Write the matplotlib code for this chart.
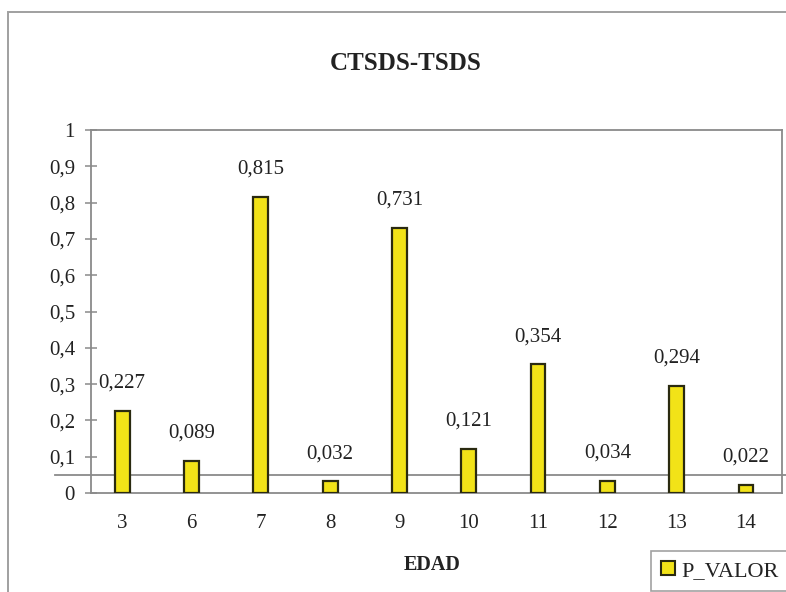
import matplotlib
matplotlib.use("Agg")
import matplotlib.pyplot as plt
from matplotlib.patches import Rectangle, Patch
from matplotlib.ticker import MultipleLocator, FuncFormatter

# Data
edades = ["3", "6", "7", "8", "9", "10", "11", "12", "13", "14"]
p_valor = [0.227, 0.089, 0.815, 0.032, 0.731, 0.121, 0.354, 0.034, 0.294, 0.022]
alpha = 0.05

plt.rcParams["font.family"] = ["Liberation Serif", "DejaVu Serif"]

W, H = 786, 592
fig = plt.figure(figsize=(W / 100, H / 100), dpi=100)
fig.patch.set_facecolor("white")

# Outer chart frame
fig.add_artist(Rectangle((8 / W, -0.01), 1.0, 1 - 12 / H + 0.01, transform=fig.transFigure,
                         fill=False, edgecolor="#a0a0a0", linewidth=1.4))

left, right, top, bottom = 91, 782, 130, 493
ax = fig.add_axes([left / W, 1 - bottom / H, (right - left) / W, (bottom - top) / H])

x = list(range(len(edades)))
ax.bar(x, p_valor, width=0.215, color="#f2e318", edgecolor="#2a2a10", linewidth=1.6, zorder=3)

ax.set_xlim(-0.45, 9.52)
ax.set_ylim(0, 1)
ax.yaxis.set_major_locator(MultipleLocator(0.1))
ax.yaxis.set_major_formatter(FuncFormatter(lambda v, _: ("%g" % round(v, 1)).replace(".", ",")))
ax.set_xticks(x)
ax.set_xticklabels(edades)

for s in ["left", "bottom", "top", "right"]:
    ax.spines[s].set_color("#8a8a8a")
    ax.spines[s].set_linewidth(1.3)

ax.tick_params(axis="y", direction="inout", length=9, width=1.1, color="#8a8a8a",
               labelsize=15, labelcolor="#222222", pad=7)
ax.tick_params(axis="x", length=0, labelsize=15, labelcolor="#222222", pad=15)

# Significance threshold line
ax.axhline(alpha, xmin=(55 - left) / (right - left), xmax=(W - left) / (right - left),
           color="#8a8a8a", linewidth=1.3, clip_on=False, zorder=2)

# Value labels
for xi, v in zip(x, p_valor):
    ax.annotate(("%.3f" % v).replace(".", ","), (xi, v), xytext=(0, 20), textcoords="offset points",
                ha="center", va="center", fontsize=15, color="#222222")

fig.text(406 / W, 1 - 64 / H, "CTSDS-TSDS", ha="center", va="center",
         fontsize=18, fontweight="bold", color="#222222")
fig.text(432 / W, 1 - 565 / H, "EDAD", ha="center", va="center",
         fontsize=14.5, fontweight="bold", color="#222222")

handle = Patch(facecolor="#f2e318", edgecolor="#2a2a10", linewidth=1.5, label="P_VALOR")
leg = fig.legend(handles=[handle], loc="lower right", bbox_to_anchor=(1.003, 0.002),
                 frameon=True, fancybox=False, fontsize=16, handlelength=0.65, handleheight=0.65,
                 handletextpad=0.25, borderpad=0.45, borderaxespad=0.0)
leg.get_frame().set_edgecolor("#8a8a8a")
leg.get_frame().set_linewidth(1.2)
for t in leg.get_texts():
    t.set_color("#222222")

fig.savefig("out.png", dpi=100, facecolor="white")
